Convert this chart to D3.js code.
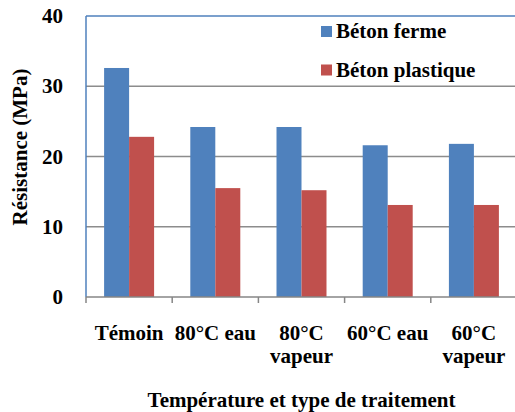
<!DOCTYPE html>
<html>
<head>
<meta charset="utf-8">
<script src="https://cdn.jsdelivr.net/npm/d3@7"></script>
</head>
<body style="margin:0; background:#fff">
<div id="chart"></div>
<script>
// data
let categories = [['Témoin'], ['80°C eau'], ['80°C', 'vapeur'], ['60°C eau'], ['60°C', 'vapeur']];
let seriesNames = ['Béton ferme', 'Béton plastique'];
let seriesColors = ['#4F81BD', '#C0504D'];
let betonFerme = [32.6, 24.2, 24.2, 21.6, 21.8];
let betonPlastique = [22.8, 15.5, 15.2, 13.1, 13.1];
let yTicks = [0, 10, 20, 30, 40];

let svgWidth = 515;
let svgHeight = 412;

let margin = { top: 16, right: -2, bottom: 115, left: 86 };
let width = svgWidth - margin.left - margin.right;
let height = svgHeight - margin.top - margin.bottom;

let svg = d3.select('#chart').append('svg')
  .attr('width', svgWidth)
  .attr('height', svgHeight)
  .attr('font-family', 'Liberation Serif')
  .attr('font-weight', 'bold')
  .attr('font-size', 21);

let chartGroup = svg.append('g')
  .attr('transform', `translate(${margin.left}, ${margin.top})`);

// bold serif for every text
function styleText(sel) {
  sel.attr('font-family', 'Liberation Serif')
    .attr('font-weight', 'bold')
    .attr('font-size', 21)
    .attr('fill', '#000');
}

let keys = categories.map((c, i) => i);

let x0 = d3.scaleBand().domain(keys).range([0, width]).padding(0);
let groupW = x0.bandwidth() * 0.58;
let x1 = d3.scaleBand().domain([0, 1]).range([0, groupW]).padding(0);

let y = d3.scaleLinear().domain([0, 40]).range([height, 0]);

// gridlines
chartGroup.selectAll('.grid')
  .data(yTicks.slice(1, -1))
  .enter()
  .append('line')
  .attr('x1', 0)
  .attr('x2', width)
  .attr('y1', d => y(d))
  .attr('y2', d => y(d))
  .attr('stroke', '#8c8c8c')
  .attr('stroke-width', 1.3);

// plot border (blue top and left)
chartGroup.append('line')
  .attr('x1', 0).attr('x2', width)
  .attr('y1', y(40)).attr('y2', y(40))
  .attr('stroke', '#4F81BD').attr('stroke-width', 1.5);
chartGroup.append('line')
  .attr('x1', 0).attr('x2', 0)
  .attr('y1', y(40)).attr('y2', y(0))
  .attr('stroke', '#4F81BD').attr('stroke-width', 1.5);

// bars
let values = [betonFerme, betonPlastique];
let groups = chartGroup.selectAll('.cat')
  .data(keys)
  .enter()
  .append('g')
  .attr('transform', d => `translate(${x0(d) + (x0.bandwidth() - groupW) / 2}, 0)`);

groups.selectAll('rect')
  .data(d => values.map((v, s) => ({ s: s, v: v[d] })))
  .enter()
  .append('rect')
  .attr('x', d => x1(d.s))
  .attr('y', d => y(d.v))
  .attr('width', x1.bandwidth())
  .attr('height', d => height - y(d.v))
  .attr('fill', d => seriesColors[d.s]);

// x axis
let xAxis = chartGroup.append('g')
  .attr('transform', `translate(0, ${height})`);
xAxis.append('line')
  .attr('x1', 0).attr('x2', width)
  .attr('stroke', '#868686').attr('stroke-width', 1.5);
xAxis.selectAll('.tick')
  .data(d3.range(categories.length + 1))
  .enter()
  .append('line')
  .attr('x1', d => d * x0.step())
  .attr('x2', d => d * x0.step())
  .attr('y1', 0).attr('y2', 6)
  .attr('stroke', '#868686').attr('stroke-width', 1.5);

// category labels, one text per line
categories.forEach((lines, i) => {
  lines.forEach((line, j) => {
    xAxis.append('text')
      .call(styleText)
      .attr('text-anchor', 'middle')
      .attr('x', x0(i) + x0.bandwidth() / 2)
      .attr('y', 43 + j * 23)
      .text(line);
  });
});

// y tick labels
chartGroup.selectAll('.ylabel')
  .data(yTicks)
  .enter()
  .append('text')
  .call(styleText)
  .attr('text-anchor', 'end')
  .attr('x', -23)
  .attr('y', d => y(d) + 7)
  .text(d => d);

// axis titles
svg.append('text')
  .call(styleText)
  .attr('text-anchor', 'middle')
  .attr('transform', `translate(27, 147) rotate(-90)`)
  .text('Résistance (MPa)');

svg.append('text')
  .call(styleText)
  .attr('text-anchor', 'middle')
  .attr('x', margin.left + width / 2)
  .attr('y', 407)
  .text('Température et type de traitement');

// legend
let legend = svg.append('g')
  .attr('transform', 'translate(321, 26)');
let legendItems = legend.selectAll('g')
  .data(seriesNames)
  .enter()
  .append('g')
  .attr('transform', (d, i) => `translate(0, ${i * 38.5})`);
legendItems.append('rect')
  .attr('width', 11).attr('height', 11)
  .attr('fill', (d, i) => seriesColors[i]);
legendItems.append('text')
  .call(styleText)
  .attr('x', 15)
  .attr('y', 12)
  .text(d => d);
</script>
</body>
</html>
